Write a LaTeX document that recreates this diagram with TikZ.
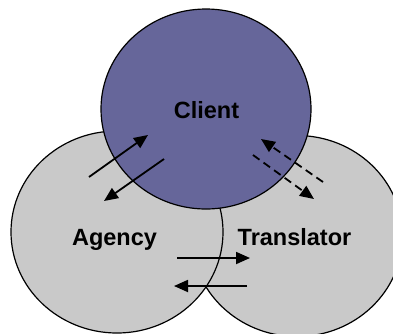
\documentclass[tikz,border=0pt]{standalone}
\usepackage{fontspec}
\setmainfont{Liberation Sans}
\usetikzlibrary{arrows.meta}
\definecolor{clientfill}{RGB}{102,102,154}
\definecolor{partyfill}{RGB}{201,201,201}
\tikzset{
  party/.style={fill=partyfill, draw=black, line width=1.2pt},
  clientdisc/.style={fill=clientfill, draw=black, line width=1.2pt},
  partylabel/.style={font=\bfseries\fontsize{23.5}{28}\selectfont, text=black, inner sep=0pt, anchor=base},
  flow/.style={line width=1.8pt, -{Triangle[length=14pt,width=12pt]}},
  dashedflow/.style={flow, dash pattern=on 8pt off 5pt},
}
\begin{document}
\begin{tikzpicture}[x=1pt, y=-1pt]
  \useasboundingbox (0,0) rectangle (393,333);
  \fill[white] (0,0) rectangle (393,333);
  \clip (0,0) rectangle (393,333);

  % the three parties, back to front
  \path[party] (297,236) ellipse [x radius=105.5, y radius=100.5];
  \path[party] (117,232) ellipse [x radius=106, y radius=101];
  \path[clientdisc] (206,109) ellipse [x radius=105, y radius=100];

  % names
  \node[partylabel] (client) at (206.5,118) {Client};
  \node[partylabel] (agency) at (114.5,245) {Agency};
  \node[partylabel] (translator) at (294.5,245) {Translator};

  % arrow end points
  \coordinate (ac1) at (89,177);   \coordinate (ac2) at (148,135);
  \coordinate (ca1) at (164,159);  \coordinate (ca2) at (104,201);
  \coordinate (tc1) at (323,182);  \coordinate (tc2) at (261,139);
  \coordinate (ct1) at (253,155);  \coordinate (ct2) at (314,199);
  \coordinate (at1) at (177,258);  \coordinate (at2) at (250,258);
  \coordinate (ta1) at (247,286);  \coordinate (ta2) at (174,286);

  % exchanges between the parties
  \draw[flow] (ac1) -- (ac2);
  \draw[flow] (ca1) -- (ca2);
  \draw[dashedflow] (tc1) -- (tc2);
  \draw[dashedflow] (ct1) -- (ct2);
  \draw[flow] (at1) -- (at2);
  \draw[flow] (ta1) -- (ta2);
\end{tikzpicture}
\end{document}
